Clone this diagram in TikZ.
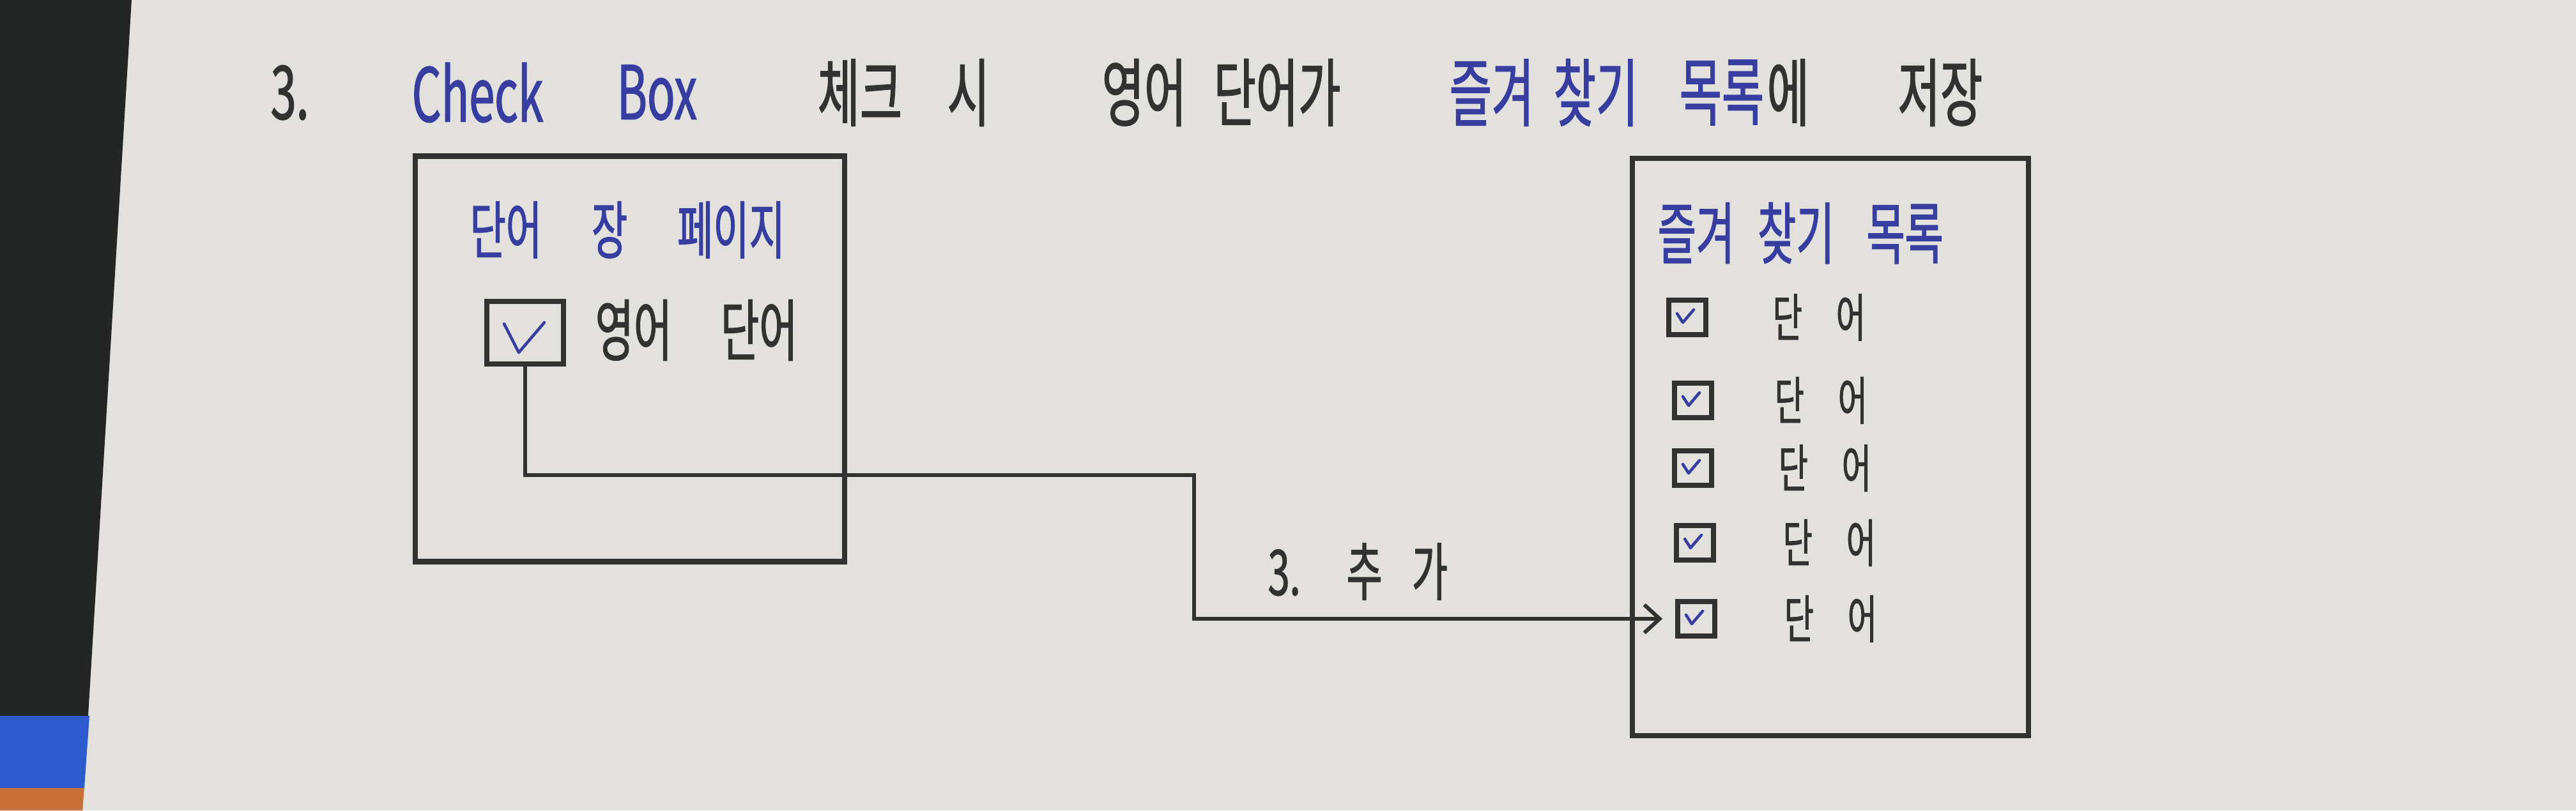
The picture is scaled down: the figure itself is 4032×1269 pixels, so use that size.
\documentclass[tikz,border=0pt]{standalone}
\usepackage{fontspec}
\setmainfont{Noto Sans CJK KR}
\newfontfamily\hand[FakeStretch=0.62, FakeBold=1.2]{Noto Sans CJK KR}
\usetikzlibrary{arrows.meta}
\definecolor{paper}{RGB}{226,225,222}
\definecolor{ink}{RGB}{50,50,50}
\definecolor{blueink}{RGB}{55,62,160}
\definecolor{desk}{RGB}{36,38,37}
\definecolor{mat}{RGB}{45,90,205}
\definecolor{edge}{RGB}{200,112,55}
\tikzset{
  txt/.style={inner sep=0pt, text=ink},
  ttl/.style={txt, anchor=west, font=\hand\fontsize{33}{38}\selectfont},
  frame/.style={draw=ink, line width=2.4pt, inner sep=0pt},
  chk/.style={draw=ink, line width=2.2pt, minimum width=1.2cm, minimum height=0.98cm, inner sep=0pt},
  favchk/.style={draw=ink, line width=2.2pt, minimum width=0.58cm, minimum height=0.54cm, inner sep=0pt},
  favword/.style={txt, anchor=west, font=\hand\fontsize{23}{27}\selectfont},
  tick/.style={draw=blueink, line width=1.3pt, line cap=round, line join=round},
  link/.style={draw=ink, line width=1.7pt, -{Straight Barb[length=2.4mm, width=4.4mm]}, shorten >=0.2cm}
}
\begin{document}
\begin{tikzpicture}[x=0.01cm, y=-0.01cm]
                        \useasboundingbox (0,0) rectangle (4032,1269);
                        \fill[paper] (0,0) rectangle (4032,1269);
                        \fill[desk] (0,0) -- (206,0) -- (129,1269) -- (0,1269) -- cycle;
                        \fill[mat] (0,1121) -- (140,1121) -- (132,1234) -- (0,1234) -- cycle;
                        \fill[edge] (0,1234) -- (132,1234) -- (129,1269) -- (0,1269) -- cycle;
                        % heading
                        \node[ttl] (hnum) at (423,145) {3.};
                        \node[ttl, text=blueink] (hcheck) at (644,145) {Check};
                        \node[ttl, text=blueink] (hbox) at (965,145) {Box};
                        \node[ttl] (hmark) at (1279,145) {체크};
                        \node[ttl] (hwhen) at (1482,145) {시};
                        \node[ttl] (heng) at (1724,145) {영어};
                        \node[ttl] (hword) at (1899,145) {단어가};
                        \node[ttl, text=blueink] (hfav) at (2268,145) {즐겨};
                        \node[ttl, text=blueink] (hfind) at (2431,145) {찾기};
                        \node[ttl, text=blueink] (hlist) at (2628,145) {목록};
                        \node[ttl] (hto) at (2765,145) {에};
                        \node[ttl] (hsave) at (2970,145) {저장};
                        % word page
                        \node[frame, minimum width=6.72cm, minimum height=6.35cm] (page) at (986,562) {};
                        \node[txt, anchor=west, text=blueink, font=\hand\fontsize{28}{32}\selectfont] (pagettl) at (735,360) {단어\hspace{0.78cm}장\hspace{0.78cm}페이지};
                        \node[chk] (wordbox) at (822,521) {};
                        \draw[tick] (wordbox.center) ++(-33,-14) -- ++(23,45) -- ++(40,-47);
                        \node[txt, anchor=west, font=\hand\fontsize{30}{34}\selectfont] (engword) at (931,517) {영어\hspace{0.76cm}단어};
                        % favourites list
                        \node[frame, minimum width=6.2cm, minimum height=9.03cm] (favs) at (2865,700) {};
                        \node[txt, anchor=west, text=blueink, font=\hand\fontsize{30}{34}\selectfont] (favttl) at (2594,365) {즐겨\hspace{0.36cm}찾기\hspace{0.5cm}목록};
                        \node[favchk] (fav1) at (2641,497) {};
                        \node[favchk] (fav2) at (2650,627) {};
                        \node[favchk] (fav3) at (2650,733) {};
                        \node[favchk] (fav4) at (2653,850) {};
                        \node[favchk] (fav5) at (2655,969) {};
                        \draw[tick] (fav1.center) ++(-16,-6) -- ++(9,14) -- ++(17,-20);
                        \draw[tick] (fav2.center) ++(-16,-6) -- ++(9,14) -- ++(17,-20);
                        \draw[tick] (fav3.center) ++(-16,-6) -- ++(9,14) -- ++(17,-20);
                        \draw[tick] (fav4.center) ++(-16,-6) -- ++(9,14) -- ++(17,-20);
                        \draw[tick] (fav5.center) ++(-16,-6) -- ++(9,14) -- ++(17,-20);
                        \node[favword] (word1) at (2774,497) {단\hspace{0.53cm}어};
                        \node[favword] (word2) at (2777,627) {단\hspace{0.53cm}어};
                        \node[favword] (word3) at (2783,733) {단\hspace{0.53cm}어};
                        \node[favword] (word4) at (2790,850) {단\hspace{0.53cm}어};
                        \node[favword] (word5) at (2792,969) {단\hspace{0.53cm}어};
                        % adding
                        \coordinate (bend) at (1869,744);
                        \draw[link] (wordbox.south) |- (bend) |- (fav5.west);
                        \node[txt, anchor=west, font=\hand\fontsize{28}{32}\selectfont] (addlbl) at (1984,895) {3.\hspace{0.72cm}추\hspace{0.46cm}가};
                    \end{tikzpicture}
\end{document}
